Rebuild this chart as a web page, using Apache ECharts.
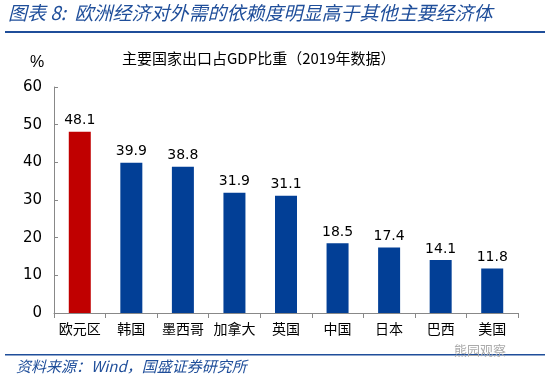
<!DOCTYPE html>
<html><head><meta charset="utf-8">
<script src="https://cdn.jsdelivr.net/npm/echarts@6/dist/echarts.min.js"></script>
<style>html,body{margin:0;padding:0;background:#fff}#c{width:550px;height:381px}</style>
</head><body><div id="c"></div>
<script>
const categories = ['欧元区','韩国','墨西哥','加拿大','英国','中国','日本','巴西','美国'];
const values = [48.1,39.9,38.8,31.9,31.1,18.5,17.4,14.1,11.8];
const yTicks = [0,10,20,30,40,50,60];
const titleText = '图表 8:  欧洲经济对外需的依赖度明显高于其他主要经济体';
const subtitleText = '主要国家出口占GDP比重（2019年数据）';
const sourceText = '资料来源：Wind，国盛证券研究所';
const watermark = '熊园观察';

const chart = echarts.init(document.getElementById('c'), null, {renderer:'canvas'});
const cjk = '"Noto Sans CJK SC", "Noto Sans", sans-serif';
chart.setOption({
  animation:false,
  graphic:[
    {type:'text', left:8, top:3, style:{text:titleText, font:'italic 19px '+cjk, fill:'#1F4E9A'}},
    {type:'rect', shape:{x:5,y:31,width:540,height:2}, style:{fill:'#1F4E9A'}},
    {type:'text', left:122, top:51, style:{text:subtitleText, font:'15px '+cjk, fill:'#000'}},
    {type:'text', left:30, top:55, style:{text:'%', font:'16px "Liberation Sans", sans-serif', fill:'#000'}},
    {type:'rect', shape:{x:5,y:354,width:540,height:1.5}, style:{fill:'#1F4E9A'}},
    {type:'text', left:16, top:359, style:{text:sourceText, font:'italic 15px '+cjk, fill:'#1F4E9A'}},
    {type:'text', left:454, top:344, style:{text:watermark, font:'13px '+cjk, fill:'#aaa'}}
  ],
  grid:{left:54, right:32, top:87, bottom:68},
  xAxis:{type:'category', data:categories,
    axisLine:{lineStyle:{color:'#888'}},
    axisTick:{show:true, alignWithLabel:false, length:5, lineStyle:{color:'#888'}},
    axisLabel:{color:'#000', fontSize:14, fontFamily:'"Noto Sans CJK SC"', margin:9, interval:0}},
  yAxis:{type:'value', min:yTicks[0], max:yTicks[yTicks.length-1], interval:10,
    axisLine:{show:true, lineStyle:{color:'#888'}},
    axisTick:{show:true, inside:true, length:4, lineStyle:{color:'#888'}},
    splitLine:{show:false},
    axisLabel:{color:'#000', fontSize:15, fontFamily:'"DejaVu Sans", sans-serif', margin:12}},
  series:[{type:'bar', data:values.map((v,i)=>({value:v, itemStyle:{color: i===0?'#C00000':'#023F96'}})),
    barWidth:22,
    label:{show:true, position:'top', color:'#000', fontSize:14, fontFamily:'"DejaVu Sans", sans-serif', distance:4,
      formatter:p=>p.value.toFixed(1)}}]
});
</script></body></html>
